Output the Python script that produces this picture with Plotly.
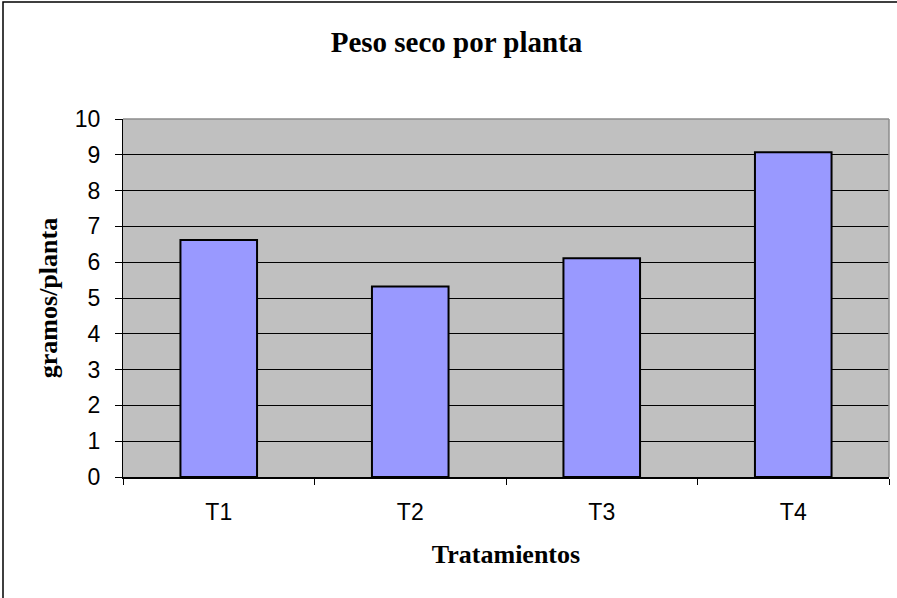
import plotly.graph_objects as go

categories = ["T1", "T2", "T3", "T4"]
values = [6.62, 5.32, 6.11, 9.07]
y_ticks = list(range(0, 11))

fig = go.Figure(go.Bar(
    x=categories, y=values,
    marker=dict(color="#9999FF", line=dict(color="black", width=2)),
))

W, H = 897, 598
L, R, T, B = 123, 8, 119, 121
pw, ph = W - L - R, H - T - B

fig.update_layout(
    width=W, height=H,
    margin=dict(l=L, r=R, t=T, b=B, pad=0),
    paper_bgcolor="white", plot_bgcolor="#C0C0C0",
    bargap=0.6, showlegend=False,
    title=dict(text="<b>Peso seco por planta</b>", x=456.5 / W, xanchor="center",
               y=1 - 42 / H, yanchor="middle",
               font=dict(family="Liberation Serif", size=29, color="black")),
    font=dict(family="Liberation Sans", size=23, color="black"),
)
fig.update_xaxes(
    type="category", tickson="boundaries", ticks="outside", ticklen=6,
    tickcolor="black", showline=True, linecolor="black", linewidth=1.5,
    showgrid=False, tickfont=dict(size=23), ticklabelstandoff=14,
    title=dict(text="<b>Tratamientos</b>", standoff=20,
               font=dict(family="Liberation Serif", size=26)),
)
fig.update_yaxes(
    range=[0, 10], tickvals=y_ticks, ticks="outside", ticklen=7,
    tickcolor="black", showline=True, linecolor="black", linewidth=1.2,
    showgrid=True, gridcolor="black", gridwidth=1, zeroline=False,
    tickfont=dict(size=23), ticklabelstandoff=10,
    title=dict(text="<b>gramos/planta</b>", standoff=9,
               font=dict(family="Liberation Serif", size=26)),
)
# plot area top/right grey border
fig.add_shape(type="line", xref="paper", yref="paper", x0=0, x1=1, y0=1, y1=1,
              line=dict(color="#8C8C8C", width=1.5))
fig.add_shape(type="line", xref="paper", yref="paper", x0=1, x1=1, y0=0, y1=1,
              line=dict(color="#8C8C8C", width=1.5))
# chart outer frame (left and top visible)
fig.add_shape(type="rect", xref="paper", yref="paper",
              x0=(3 - L) / pw, x1=(W + 10 - L) / pw,
              y0=-(B + 10) / ph, y1=(ph + T - 2) / ph,
              line=dict(color="black", width=1.5), layer="below")
fig.write_html("out.html", config={"displayModeBar": False},
               post_script="document.body.style.margin='0';document.body.style.overflow='hidden';")
